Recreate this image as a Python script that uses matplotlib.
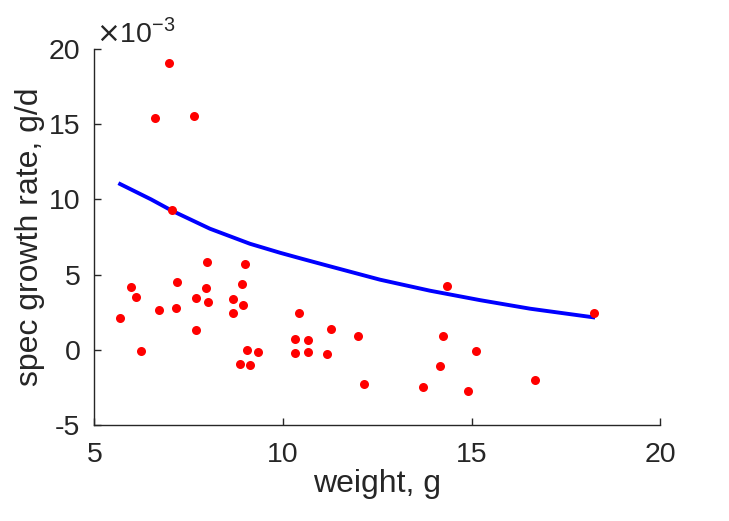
import matplotlib.pyplot as plt

# measured points (weight g, spec growth rate x1e-3 g/d)
weight = [6.98, 6.60, 7.65, 7.05, 7.99, 9.00, 5.97, 7.20, 7.96, 8.92,
          6.11, 7.70, 8.01, 8.68, 8.93, 5.67, 6.72, 7.15, 8.68, 10.43,
          7.68, 11.26, 10.31, 10.65, 6.24, 9.03, 9.33, 10.31, 10.65, 11.16,
          8.85, 9.11, 14.35, 11.98, 14.23, 15.11, 14.15, 12.14, 13.72, 14.89,
          18.24, 16.69]
rate = [19.09, 15.43, 15.56, 9.30, 5.82, 5.73, 4.19, 4.52, 4.12, 4.37,
        3.51, 3.42, 3.17, 3.37, 2.98, 2.14, 2.62, 2.80, 2.47, 2.42,
        1.30, 1.41, 0.71, 0.66, -0.09, 0.00, -0.15, -0.20, -0.13, -0.26,
        -0.93, -1.04, 4.21, 0.90, 0.93, -0.09, -1.06, -2.25, -2.49, -2.73,
        2.43, -2.01]

# fitted curve
fit_w = [5.68, 6.50, 7.05, 8.06, 8.59, 9.12, 9.92, 10.50, 11.24, 12.57,
         13.89, 15.22, 16.55, 18.22]
fit_r = [11.02, 10.00, 9.25, 8.05, 7.55, 7.05, 6.45, 6.05, 5.55, 4.66,
         3.93, 3.30, 2.73, 2.16]

plt.rcParams['font.family'] = ['Liberation Sans', 'DejaVu Sans']
plt.rcParams['axes.unicode_minus'] = False
txt = '#262626'

fig = plt.figure(figsize=(7.29, 5.21), dpi=100)
ax = fig.add_axes([0.1296, 0.1843, 0.7762, 0.7217])

ax.plot(fit_w, fit_r, color='#0000ff', lw=2.8, zorder=2)
ax.plot(weight, rate, 'o', color='#ff0000', ms=6.5, mec='none', zorder=3)

ax.set_xlim(5, 20)
ax.set_ylim(-5, 20)
ax.set_xticks([5, 10, 15, 20])
ax.set_yticks([-5, 0, 5, 10, 15, 20])

for s in ['top', 'right']:
    ax.spines[s].set_visible(False)
for s in ['left', 'bottom']:
    ax.spines[s].set_color(txt)
    ax.spines[s].set_linewidth(1.0)

ax.tick_params(direction='in', length=5, width=1.0, color=txt,
               labelcolor=txt, labelsize=20.5)
ax.tick_params(axis='x', pad=12)
ax.tick_params(axis='y', pad=10)
ax.set_xlabel('weight, g', fontsize=23, color=txt, labelpad=1)
ax.set_ylabel('spec growth rate, g/d', fontsize=23, color=txt, labelpad=3)

ax.annotate(r'$\times$10$^{\mathregular{-3}}$', xy=(0, 1), xycoords='axes fraction',
            xytext=(1, 5), textcoords='offset points',
            fontsize=20.5, color=txt, ha='left', va='baseline')

fig.savefig('out.png', dpi=100)
